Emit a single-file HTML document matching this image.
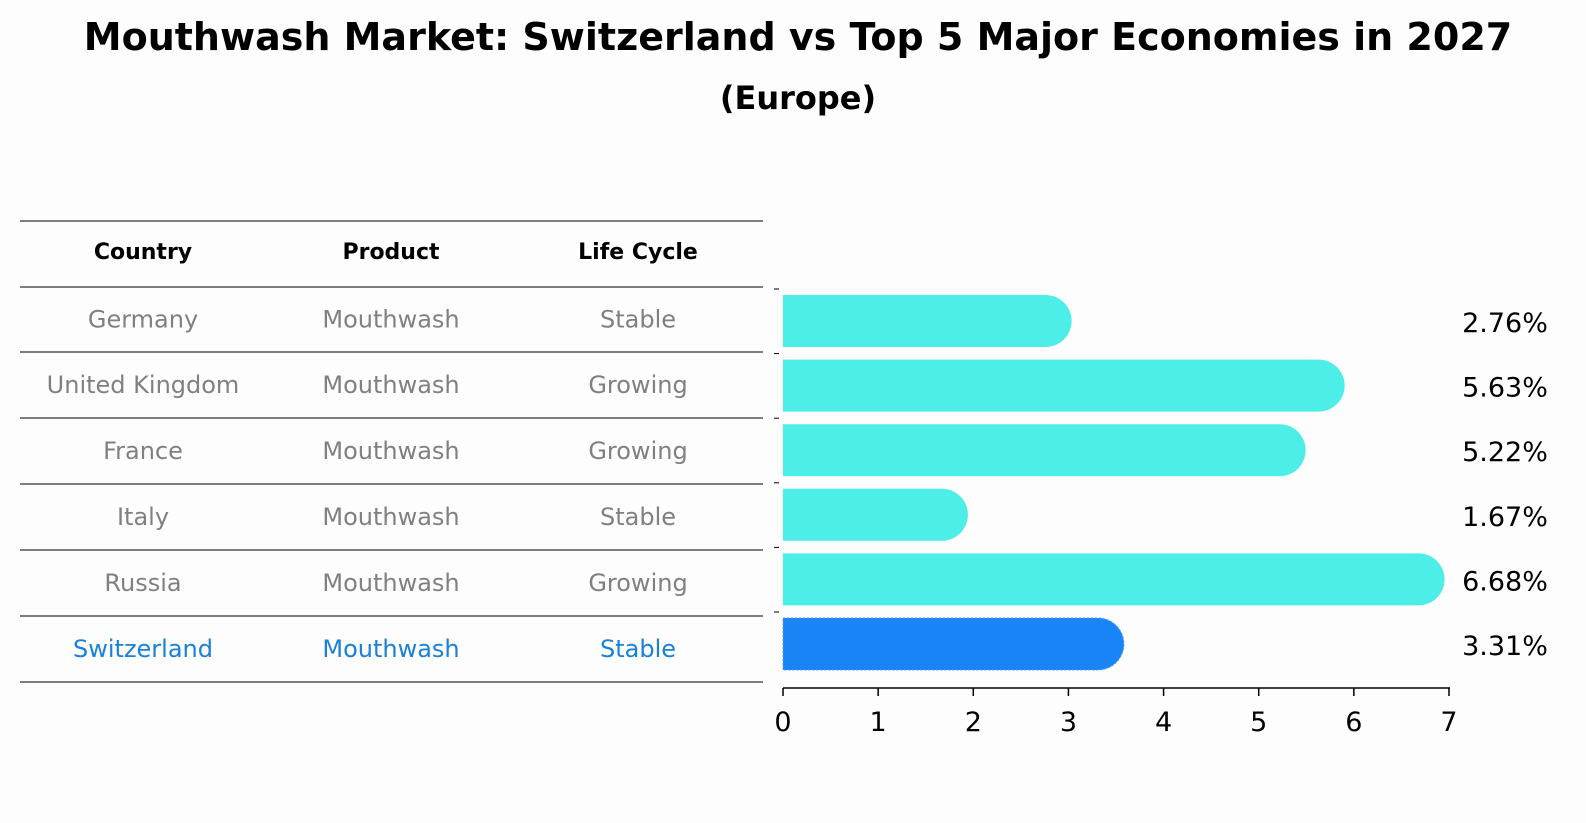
<!DOCTYPE html>
<html><head><meta charset="utf-8"><style>
html,body{margin:0;padding:0;width:1586px;height:823px;overflow:hidden;background:#fdfdfd;}
svg{display:block;font-family:"DejaVu Sans","Liberation Sans",sans-serif;}
</style></head><body>
<svg id="c" width="1586" height="823" viewBox="0 0 1586 823">
<rect width="1586" height="823" fill="#fdfdfd"/>
<text x="798" y="50" text-anchor="middle" style="font-size:38px" font-weight="bold">Mouthwash Market: Switzerland vs Top 5 Major Economies in 2027</text>
<text x="798" y="109" text-anchor="middle" style="font-size:32px" font-weight="bold">(Europe)</text>
<g id="tbl"></g>
<g id="bars"></g>
</svg>
<script>
const countries=["Germany","United Kingdom","France","Italy","Russia","Switzerland"];
const products=["Mouthwash","Mouthwash","Mouthwash","Mouthwash","Mouthwash","Mouthwash"];
const lifecycle=["Stable","Growing","Growing","Stable","Growing","Stable"];
const values=[2.76,5.63,5.22,1.67,6.68,3.31];
const ticks=[0,1,2,3,4,5,6,7];
const NS="http://www.w3.org/2000/svg";
function mk(t,a,p){const e=document.createElementNS(NS,t);for(const k in a)e.setAttribute(k,a[k]);p.appendChild(e);return e;}
const tbl=document.getElementById('tbl'),bars=document.getElementById('bars');
const lineY=[221,287,352,418,484,550,616,682];
lineY.forEach(y=>{const l=mk('line',{x1:20,x2:763,y1:y,y2:y,stroke:'#000','stroke-width':1},tbl);

});
const colX=[143,391,638];
["Country","Product","Life Cycle"].forEach((h,i)=>{const t=mk('text',{x:colX[i],y:259,'text-anchor':'middle',style:'font-size:22px','font-weight':'bold'},tbl);t.textContent=h;

});
const rowC=i=>(lineY[i+1]+lineY[i+2])/2;
countries.forEach((c,i)=>{const col=i===countries.length-1?'#1a80d8':'#808080';
[c,products[i],lifecycle[i]].forEach((s,j)=>{const t=mk('text',{x:colX[j],y:rowC(i)+8,'text-anchor':'middle',style:'font-size:24px',fill:col},tbl);t.textContent=s;

});});
const x0=783,x1=1449,xmax=7;
const xs=v=>x0+(x1-x0)*v/xmax;
const yc=i=>321+i*64.6;
const bh=52,r=26;
values.forEach((v,i)=>{const hl=i===values.length-1;const col=hl?'#1984f5':'#4deee8';
const w=xs(v)-x0;
const p=mk('path',{d:`M${x0},${yc(i)-bh/2} H${x0+w} A${r},${r} 0 0 1 ${x0+w},${yc(i)+bh/2} H${x0} Z`,fill:col},bars);
if(hl){p.setAttribute('stroke','#4a9ef0');p.setAttribute('stroke-dasharray','2,2');p.setAttribute('stroke-width','1');}


const t=mk('text',{x:1505,y:yc(i)+11,'text-anchor':'middle',style:'font-size:27px'},bars);t.textContent=v.toFixed(2)+'%';


const tk=mk('line',{x1:774,x2:779,y1:yc(i)-32,y2:yc(i)-32,stroke:'#000'},bars);

});
const ax=mk('line',{x1:x0,x2:x1+1,y1:688,y2:688,stroke:'#000','stroke-width':1.5},bars);


ticks.forEach(v=>{const l=mk('line',{x1:xs(v),x2:xs(v),y1:688,y2:696,stroke:'#000','stroke-width':1.5},bars);


const t=mk('text',{x:xs(v),y:731,'text-anchor':'middle',style:'font-size:27px'},bars);t.textContent=v;

});
</script>
</body></html>
